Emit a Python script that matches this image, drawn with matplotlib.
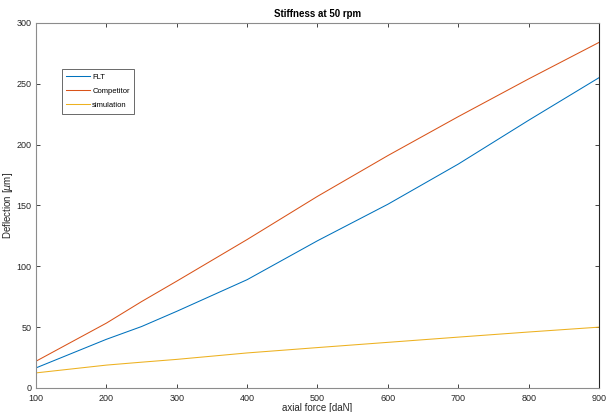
import matplotlib.pyplot as plt

# values
force = [100, 200, 250, 300, 400, 500, 600, 700, 800, 900]
flt = [16.5, 40.0, 50.5, 63.0, 89.0, 121.0, 151.0, 184.0, 220.0, 255.0]
competitor = [22.0, 53.3, 71.0, 87.8, 122.0, 157.5, 191.0, 223.0, 254.0, 284.0]
simulation = [12.4, 18.8, 21.2, 23.5, 28.8, 33.2, 37.5, 41.8, 46.0, 50.0]

series_names = ["FLT", "Competitor", "simulation"]
x_ticks = [100, 200, 300, 400, 500, 600, 700, 800, 900]
y_ticks = [0, 50, 100, 150, 200, 250, 300]

colors = ["#0072BD", "#D95319", "#EDB120"]
axis_color = "#262626"

plt.rcParams["font.family"] = ["Liberation Sans", "DejaVu Sans"]

fig = plt.figure(figsize=(6.08, 4.12), dpi=100)
ax = fig.add_axes([0.0592, 0.0583, 0.9260, 0.8860])

for y, name, c in zip([flt, competitor, simulation], series_names, colors):
    ax.plot(force, y, color=c, lw=0.75, label=name)

ax.set_xlim(100, 900)
ax.set_ylim(0, 300)
ax.set_xticks(x_ticks)
ax.set_yticks(y_ticks)
ax.tick_params(direction="in", length=3, width=0.6, labelsize=6.5,
               colors=axis_color, top=True, right=True)
ax.tick_params(axis="x", pad=4)
ax.tick_params(axis="y", pad=3)
for s in ax.spines.values():
    s.set_color("#8c8c8c")
    s.set_linewidth(0.8)
ax.spines["right"].set_color(axis_color)

ax.set_title("Stiffness at 50 rpm", fontsize=7, fontweight="bold", pad=4)
ax.set_xlabel("axial force [daN]", fontsize=7, labelpad=0, color=axis_color)
ax.set_ylabel("Deflection [$\\mu$m]", fontsize=7, labelpad=1.5, color=axis_color)

leg = ax.legend(loc="upper left", bbox_to_anchor=(0.0456, 0.875), fontsize=5.5,
                frameon=True, fancybox=False, handlelength=3.1,
                borderpad=0.6, borderaxespad=0, labelspacing=0.9,
                handletextpad=0.3)
leg.get_frame().set_edgecolor(axis_color)
leg.get_frame().set_linewidth(0.6)

fig.savefig("out.png", dpi=100)
